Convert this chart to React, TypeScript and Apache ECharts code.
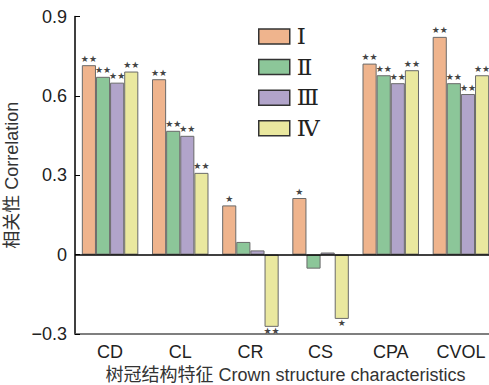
import React, { useEffect, useRef } from "react";
import * as echarts from "echarts";

const categories = ["CD", "CL", "CR", "CS", "CPA", "CVOL"];
const seriesNames = ["Ⅰ", "Ⅱ", "Ⅲ", "Ⅳ"];
const valuesI = [0.716, 0.663, 0.186, 0.214, 0.722, 0.823];
const valuesII = [0.672, 0.468, 0.048, -0.053, 0.678, 0.648];
const valuesIII = [0.65, 0.449, 0.016, 0.008, 0.648, 0.607];
const valuesIV = [0.692, 0.309, -0.273, -0.243, 0.697, 0.678];
const sigI = ["**", "**", "*", "*", "**", "**"];
const sigII = ["**", "**", "", "", "**", "**"];
const sigIII = ["**", "**", "", "", "**", "**"];
const sigIV = ["**", "**", "**", "*", "**", "**"];
const colors = ["#EFB48D", "#8CC699", "#B1A4CA", "#EAE89F"];

const allValues = [valuesI, valuesII, valuesIII, valuesIV];
const allSig = [sigI, sigII, sigIII, sigIV];

const FONT = "'Liberation Sans', Arial, 'Noto Sans CJK SC', sans-serif";

export default function App() {
  const ref = useRef<HTMLDivElement>(null);
  useEffect(() => {
    if (!ref.current) return;
    const chart = echarts.init(ref.current, null, { renderer: "svg" });
    const series: any[] = allValues.map((vals, si) => ({
      name: seriesNames[si],
      type: "bar",
      barGap: "0%",
      barCategoryGap: "19.5%",
      itemStyle: { color: colors[si], borderColor: "#6a6a6a", borderWidth: 1 },
      data: vals.map((v, i) => ({
        value: v,
        label: {
          show: allSig[si][i] !== "",
          position: v < 0 ? "bottom" : "top",
          distance: v < 0 ? 0 : 2,
          formatter: allSig[si][i].replace(/\*/g, "★"),
        },
      })),
      label: {
        fontSize: 9,
        color: "#444",
        fontFamily: "'DejaVu Sans', sans-serif",
      },
      markLine:
        si === 0
          ? {
              silent: true,
              symbol: "none",
              label: { show: false },
              lineStyle: { color: "#000", width: 1.5, type: "solid" },
              data: [{ yAxis: 0 }],
            }
          : undefined,
    }));
    chart.setOption({
      animation: false,
      grid: { left: 75, width: 421, top: 16.5, bottom: 51, outerBoundsMode: "none", containLabel: false },
      legend: {
        orient: "vertical",
        left: 253,
        top: 20,
        itemWidth: 31,
        itemHeight: 15,
        itemGap: 7.6,
        icon: "rect",
        itemStyle: { borderColor: "#333", borderWidth: 1.5 },
        textStyle: {
          fontFamily: "'Liberation Serif', 'DejaVu Serif', serif",
          fontSize: 23,
          color: "#222",
          padding: [0, 0, 0, 2],
        },
        data: seriesNames,
      },
      xAxis: {
        type: "category",
        data: categories,
        name: "树冠结构特征 Crown structure characteristics",
        nameLocation: "middle",
        nameGap: 32,
        nameTextStyle: { fontSize: 18, color: "#333", fontFamily: FONT },
        axisLine: { onZero: false, lineStyle: { color: "#555", width: 1.5 } },
        axisTick: { inside: true, alignWithLabel: true, length: 5, lineStyle: { color: "#333" } },
        axisLabel: { fontSize: 18, color: "#222", fontFamily: FONT, margin: 9 },
      },
      yAxis: {
        type: "value",
        min: -0.3,
        max: 0.9,
        interval: 0.3,
        name: "相关性 Correlation",
        nameLocation: "middle",
        nameGap: 50,
        nameTextStyle: { fontSize: 18, color: "#333", fontFamily: FONT },
        axisLine: { show: true, lineStyle: { color: "#000", width: 1.5 } },
        axisTick: { show: true, inside: true, length: 5, lineStyle: { color: "#000" } },
        splitLine: { show: false },
        axisLabel: {
          fontSize: 18,
          color: "#222",
          fontFamily: FONT,
          margin: 8,
          formatter: (v: number) =>
            Math.abs(v) < 1e-9 ? "0" : v < 0 ? "\u2212" + Math.abs(v).toFixed(1) : v.toFixed(1),
        },
      },
      series,
    });
    return () => chart.dispose();
  }, []);
  return <div ref={ref} style={{ width: 489, height: 385, position: "absolute", left: 0, top: 0 }} />;
}
